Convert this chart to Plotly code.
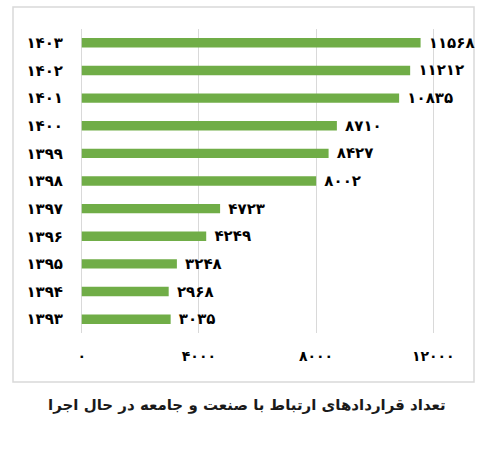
import plotly.graph_objects as go

# داده‌ها
years = [1393, 1394, 1395, 1396, 1397, 1398, 1399, 1400, 1401, 1402, 1403]
contracts = [3035, 2968, 3248, 4249, 4723, 8002, 8427, 8710, 10835, 11212, 11568]
x_ticks = [0, 4000, 8000, 12000]
title_text = "تعداد قراردادهای ارتباط با صنعت و جامعه در حال اجرا"

FA_DIGITS = str.maketrans("0123456789", "۰۱۲۳۴۵۶۷۸۹")


def to_fa(n):
    """عدد را با ارقام فارسی برمی‌گرداند"""
    return str(n).translate(FA_DIGITS)


year_labels = [to_fa(y) for y in years]

W, H = 495, 465
L, R, T, B = 80, 435, 29, 333  ## محدوده ناحیه رسم به پیکسل
pw, ph = R - L, B - T


def px_x(p):
    return (p - L) / pw


def px_y(p):
    return (B - p) / ph


fig = go.Figure(go.Bar(
    x=contracts, y=year_labels, orientation="h",
    marker_color="#70AD47", marker_line_width=0,
    text=["<b>\u00a0" + to_fa(v) + "</b>" for v in contracts], textposition="outside",
    textfont=dict(family="DejaVu Sans", size=15, color="#000000"),
    cliponaxis=False, constraintext="none",
))

fig.update_layout(
    width=W, height=H,
    margin=dict(l=L, r=W - R, t=T, b=H - B, autoexpand=False),
    paper_bgcolor="white", plot_bgcolor="white",
    bargap=0.66, showlegend=False,
    font=dict(family="DejaVu Sans", color="#000000"),
)
## کمی حاشیه در بازه تا خطوط شبکه صفر و ۱۲۰۰۰ هم رسم شوند
fig.update_xaxes(
    range=[-60, 12060], tickvals=x_ticks, ticktext=["<b>" + to_fa(t) + "</b>" for t in x_ticks],
    showgrid=True, gridcolor="#d9d9d9", gridwidth=1,
    zeroline=False, showline=False, ticks="",
    tickfont=dict(size=14, family="DejaVu Sans"), ticklabelstandoff=13,
)
fig.update_yaxes(
    type="category", categoryorder="array", categoryarray=year_labels,
    tickvals=year_labels, ticktext=["<b>" + y + "</b>" for y in year_labels],
    showgrid=False, zeroline=False, showline=False, ticks="",
    tickfont=dict(size=15, family="DejaVu Sans"), ticklabelstandoff=16,
)

## قاب دور نمودار
fig.add_shape(type="rect", xref="paper", yref="paper",
              x0=px_x(13), x1=px_x(474), y0=px_y(382), y1=px_y(7),
              line=dict(color="#d9d9d9", width=1.5), layer="below")

fig.add_annotation(text="<b>" + title_text + "</b>", xref="paper", yref="paper",
                   x=px_x(247), y=px_y(405), showarrow=False,
                   xanchor="center", yanchor="middle",
                   font=dict(family="DejaVu Sans", size=15, color="#1a1a1a"))

fig.write_html("out.html", config={"displayModeBar": False},
               post_script="document.body.style.margin='0';")
